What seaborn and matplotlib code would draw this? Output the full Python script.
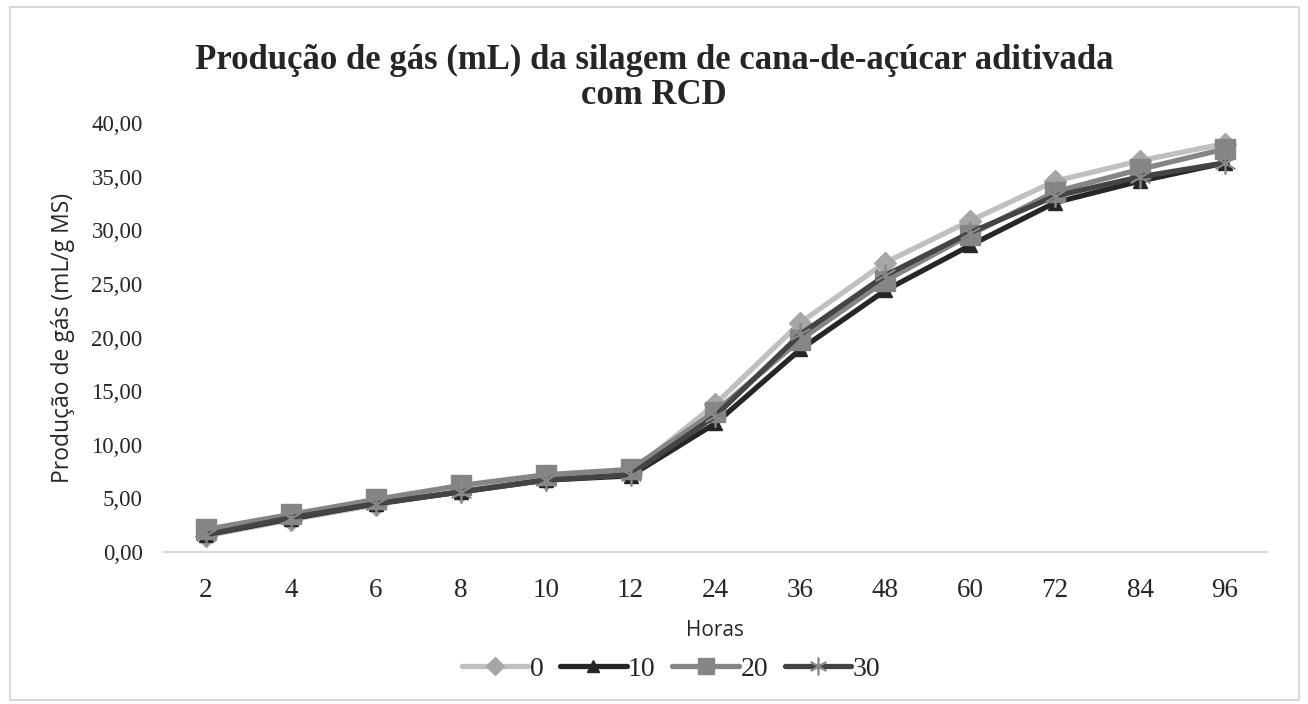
import pandas as pd
import matplotlib.pyplot as plt
import seaborn as sns
from matplotlib.patches import Rectangle

# --- Data ---
horas = ['2', '4', '6', '8', '10', '12', '24', '36', '48', '60', '72', '84', '96']
rcd_0 = [1.5, 3.0, 4.4, 5.7, 6.8, 7.4, 13.8, 21.4, 27.0, 30.9, 34.6, 36.5, 38.1]
rcd_10 = [1.6, 3.1, 4.5, 5.6, 6.7, 7.1, 12.0, 18.9, 24.4, 28.6, 32.6, 34.6, 36.3]
rcd_20 = [2.1, 3.5, 4.9, 6.2, 7.2, 7.7, 13.1, 19.8, 25.3, 29.6, 33.6, 35.7, 37.6]
rcd_30 = [1.6, 3.2, 4.5, 5.6, 6.7, 7.2, 12.7, 20.3, 25.8, 29.8, 33.2, 35.0, 36.3]
tratamentos = ['0', '10', '20', '30']

df = pd.DataFrame({'Horas': horas * 4,
                   'valor': rcd_0 + rcd_10 + rcd_20 + rcd_30,
                   'RCD': [t for t in tratamentos for _ in horas]})

# --- Styling ---
sns.set_theme(style='white')
plt.rcParams['font.family'] = ['Liberation Serif', 'DejaVu Serif']
SANS = ['Open Sans', 'DejaVu Sans']

styles = {
    '0':  dict(color='#c0c0c0', marker='D', mfc='#a6a6a6', mec='#a6a6a6', ms=11, mew=1),
    '10': dict(color='#262626', marker='^', mfc='#262626', mec='#262626', ms=10, mew=1),
    '20': dict(color='#858585', marker='s', mfc='#858585', mec='#858585', ms=14, mew=1),
    '30': dict(color='#444444', marker=(6, 2, 0), mfc='#888888', mec='#888888', ms=16, mew=1.2),
}

fig = plt.figure(figsize=(13.08, 7.04), dpi=100)
ax = fig.add_axes([0.125, 0.216, 0.844, 0.609])

for t in tratamentos:
    st = styles[t]
    sns.lineplot(data=df[df['RCD'] == t], x='Horas', y='valor', ax=ax,
                 color=st['color'], linewidth=3.8, marker=st['marker'],
                 markersize=st['ms'], markerfacecolor=st['mfc'],
                 markeredgecolor=st['mec'], markeredgewidth=st['mew'],
                 label=t, sort=False)

ax.set_xlim(-0.5, len(horas) - 0.5)
ax.set_ylim(0, 40)
ax.set_yticks(range(0, 41, 5))
ax.set_yticklabels([f'{v:.2f}'.replace('.', ',') for v in range(0, 41, 5)], fontsize=16.5)
ax.tick_params(axis='x', labelsize=19.5, length=0, pad=19)
ax.tick_params(axis='y', length=0, pad=15)

for s in ['top', 'right', 'left']:
    ax.spines[s].set_visible(False)
ax.spines['bottom'].set_color('#d9d9d9')
ax.spines['bottom'].set_linewidth(1.5)

ax.set_xlabel('Horas', family=SANS, fontsize=15, labelpad=12)
ax.set_ylabel('Produção de gás (mL/g MS)', family=SANS, fontsize=16.5, labelpad=12)

fig.suptitle('Produção de gás (mL) da silagem de cana-de-açúcar aditivada\ncom RCD',
             fontsize=25, fontweight='bold', y=0.938, linespacing=1.1)

ax.get_legend().remove()
handles, labels = ax.get_legend_handles_labels()
leg = fig.legend(handles, labels, loc='center', bbox_to_anchor=(0.513, 0.05), ncol=4,
                 frameon=False, fontsize=20, handlelength=2.4, handletextpad=0.05,
                 columnspacing=0.6, markerscale=0.8)

# light frame around the chart area
fig.patches.append(Rectangle((0.008, 0.005), 0.985, 0.985, transform=fig.transFigure,
                             fill=False, edgecolor='#d9d9d9', linewidth=1.5))

plt.savefig('out.png', dpi=100)
